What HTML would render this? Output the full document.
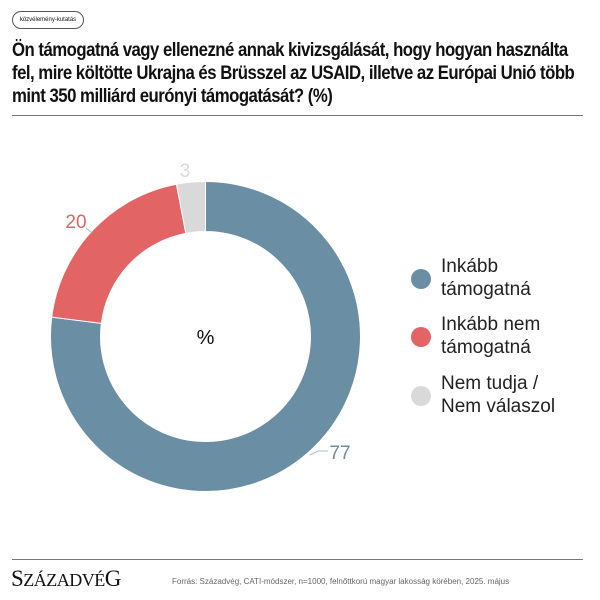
<!DOCTYPE html>
<html><head><meta charset="utf-8"><style>
body{margin:0;width:600px;height:600px;background:#fff;position:relative;overflow:hidden;font-family:"Liberation Sans",sans-serif}
.pill{position:absolute;left:12px;top:11px;width:70px;height:16px;border:1px solid #555;border-radius:9px;font-size:6px;line-height:16px;text-align:center;color:#111;white-space:nowrap;overflow:hidden}
.title{position:absolute;left:12px;top:39px;width:680px;font-size:19.5px;font-weight:bold;line-height:23px;letter-spacing:-0.6px;color:#111;white-space:nowrap;transform:scaleX(0.86);transform-origin:0 0}
.hr{position:absolute;left:12px;width:571px;height:1px;background:#777}
.logo{position:absolute;left:11px;top:566px;font-family:"Liberation Serif",serif;font-size:23px;color:#111;letter-spacing:-0.5px}
.logo span{font-size:18px}
.src{position:absolute;left:172px;top:577px;font-size:8px;color:#666}
.leg{position:absolute;left:441px;font-size:19px;line-height:23px;color:#222}
.dot{position:absolute;left:411px;width:20px;height:20px;border-radius:50%}
</style></head><body>
<div class="pill">közvélemény-kutatás</div>
<div class="title">Ön támogatná vagy ellenezné annak kivizsgálását, hogy hogyan használta<br>fel, mire költötte Ukrajna és Brüsszel az USAID, illetve az Európai Unió több<br>mint 350 milliárd eurónyi támogatását? (%)</div>
<div class="hr" style="top:115px"></div>
<svg style="position:absolute;left:0;top:0" width="600" height="560">
<path d="M205.5,181.5 A155 155 0 1 1 51.72,317.07 L101.33,323.34 A105 105 0 1 0 205.5,231.5 Z" fill="#6a8fa5" stroke="#fff" stroke-width="1"/>
<path d="M51.72,317.07 A155 155 0 0 1 176.46,184.25 L185.83,233.36 A105 105 0 0 0 101.33,323.34 Z" fill="#e36464" stroke="#fff" stroke-width="1"/>
<path d="M176.46,184.25 A155 155 0 0 1 205.5,181.5 L205.5,231.5 A105 105 0 0 0 185.83,233.36 Z" fill="#d9d9d9" stroke="#fff" stroke-width="1"/>
<text x="205.5" y="344" font-size="20" text-anchor="middle" fill="#111" font-family="Liberation Sans">%</text>
<text x="185" y="177" font-size="19" text-anchor="middle" fill="#d9d9d9" font-family="Liberation Sans">3</text>
<text x="76" y="228" font-size="19" text-anchor="middle" fill="#e36464" font-family="Liberation Sans">20</text>
<path d="M86,228 L92,233" stroke="#e8a0a0" fill="none"/>
<text x="340" y="459" font-size="19" text-anchor="middle" fill="#6a8fa5" font-family="Liberation Sans">77</text>
<path d="M310,455 L318,451 L328,451" stroke="#a9bcc8" fill="none"/>
</svg>
<div class="dot" style="top:269px;background:#6a8fa5"></div>
<div class="dot" style="top:327px;background:#e36464"></div>
<div class="dot" style="top:386px;background:#d9d9d9"></div>
<div class="leg" style="top:255px">Inkább<br>támogatná</div>
<div class="leg" style="top:313px">Inkább nem<br>támogatná</div>
<div class="leg" style="top:372px">Nem tudja /<br>Nem válaszol</div>
<div class="hr" style="top:559px"></div>
<div class="logo">S<span>ZÁZADVÉ</span>G</div>
<div class="src">Forrás: Századvég, CATI-módszer, n=1000, felnőttkorú magyar lakosság körében, 2025. május</div>
</body></html>
